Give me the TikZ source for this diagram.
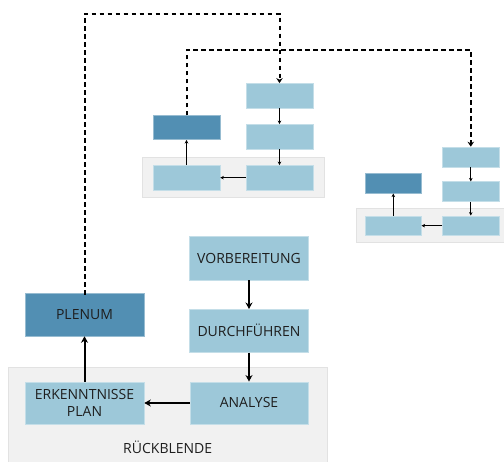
\documentclass[tikz,border=0pt]{standalone}
\usepackage{fontspec}
\setmainfont{Open Sans}
\usetikzlibrary{arrows.meta}
\definecolor{lightbox}{HTML}{9DC8D9}
\definecolor{darkbox}{HTML}{528FB3}
\definecolor{bggrey}{HTML}{F1F1F1}
\definecolor{bgedge}{HTML}{E2E2E2}
\definecolor{txt}{HTML}{1E1E1E}
\tikzset{
  lbox/.style={rectangle, fill=lightbox, draw=lightbox!60!white, line width=0.6pt, inner sep=0pt, text=txt, font=\fontsize{14}{16.7}\selectfont, align=center},
  dbox/.style={lbox, fill=darkbox, draw=darkbox!60!white},
  panel/.style={fill=bggrey, draw=bgedge, line width=0.6pt},
  bigarrow/.style={line width=2pt, -{Stealth[length=6.5pt,width=7pt]}},
  smallarrow/.style={line width=1.1pt, -{Stealth[length=3.5pt,width=3.5pt]}},
  dasharrow/.style={line width=2pt, dash pattern=on 4.5pt off 3.5pt, -{Stealth[length=5pt,width=6.5pt]}}
}
\begin{document}
\begin{tikzpicture}[x=1pt,y=-1pt]
\useasboundingbox (0,0) rectangle (504,462);
% panels
\fill[panel] (8,367) rectangle (327.7,462);
\fill[panel] (142.7,157) rectangle (324,197.7);
\fill[panel] (356,208.3) rectangle (504,242);
\draw[bgedge, line width=0.6pt] (8,462) -- (8,367) -- (327.7,367) -- (327.7,462);
\draw[bgedge, line width=0.6pt] (142.7,197.7) -- (142.7,157) -- (324,157) -- (324,197.7) -- cycle;
\draw[bgedge, line width=0.6pt] (504,242) -- (356,242) -- (356,208.3) -- (504,208.3);
% main boxes
\node[dbox, minimum width=119pt, minimum height=43pt] (plenum) at (84.5,314.5) {PLENUM};
\node[lbox, minimum width=118.6pt, minimum height=43.3pt] (vorb) at (249,258.3) {VORBEREITUNG};
\node[lbox, minimum width=118.6pt, minimum height=43pt] (durch) at (249,330.8) {DURCHFÜHREN};
\node[lbox, minimum width=118.3pt, minimum height=42.3pt] (analyse) at (249,403) {ANALYSE};
\node[lbox, minimum width=119pt, minimum height=42.3pt] (erk) at (84.5,403) {ERKENNTNISSE\\PLAN};
\node[text=txt, font=\fontsize{14}{16}\selectfont] (rueck) at (167.7,447) {RÜCKBLENDE};
% small diagram 1
\node[lbox, minimum width=67pt, minimum height=24.7pt] (a1) at (279.5,95.7) {};
\node[lbox, minimum width=67pt, minimum height=24.7pt] (a2) at (279.5,136.7) {};
\node[lbox, minimum width=67pt, minimum height=24.7pt] (a3) at (279.5,177.7) {};
\node[lbox, minimum width=67pt, minimum height=24.7pt] (a4) at (186.5,177.7) {};
\node[dbox, minimum width=67pt, minimum height=24pt] (a5) at (186.5,127.7) {};
% small diagram 2
\node[lbox, minimum width=56.3pt, minimum height=20pt] (b1) at (470.8,157) {};
\node[lbox, minimum width=56.3pt, minimum height=20pt] (b2) at (470.8,191.7) {};
\node[lbox, minimum width=56.3pt, minimum height=19.6pt] (b3) at (470.8,225.7) {};
\node[lbox, minimum width=56pt, minimum height=19.6pt] (b4) at (393.3,225.7) {};
\node[dbox, minimum width=56pt, minimum height=20pt] (b5) at (393.3,183.3) {};
% main arrows
\draw[bigarrow] (vorb) -- (durch);
\draw[bigarrow] (durch) -- (analyse);
\draw[bigarrow] (analyse) -- (erk);
\draw[bigarrow] (erk) -- (plenum);
% small arrows
\draw[smallarrow] (a1) -- (a2);
\draw[smallarrow] (a2) -- (a3);
\draw[smallarrow] (a3) -- (a4);
\draw[smallarrow] (a4) -- (a5);
\draw[smallarrow] (b1) -- (b2);
\draw[smallarrow] (b2) -- (b3);
\draw[smallarrow] (b3) -- (b4);
\draw[smallarrow] (b4) -- (b5);
% dashed connectors
\coordinate (d1) at (84.5,13.7);
\coordinate (d2) at (279.5,13.7);
\draw[dasharrow] ([yshift=-2pt]plenum.north) -- (d1) -- (d2) -- (a1.north);
\coordinate (e1) at (186.5,50);
\coordinate (e2) at (470.8,50);
\draw[dasharrow] (a5.north) -- (e1) -- (e2) -- (b1.north);
\end{tikzpicture}
\end{document}
